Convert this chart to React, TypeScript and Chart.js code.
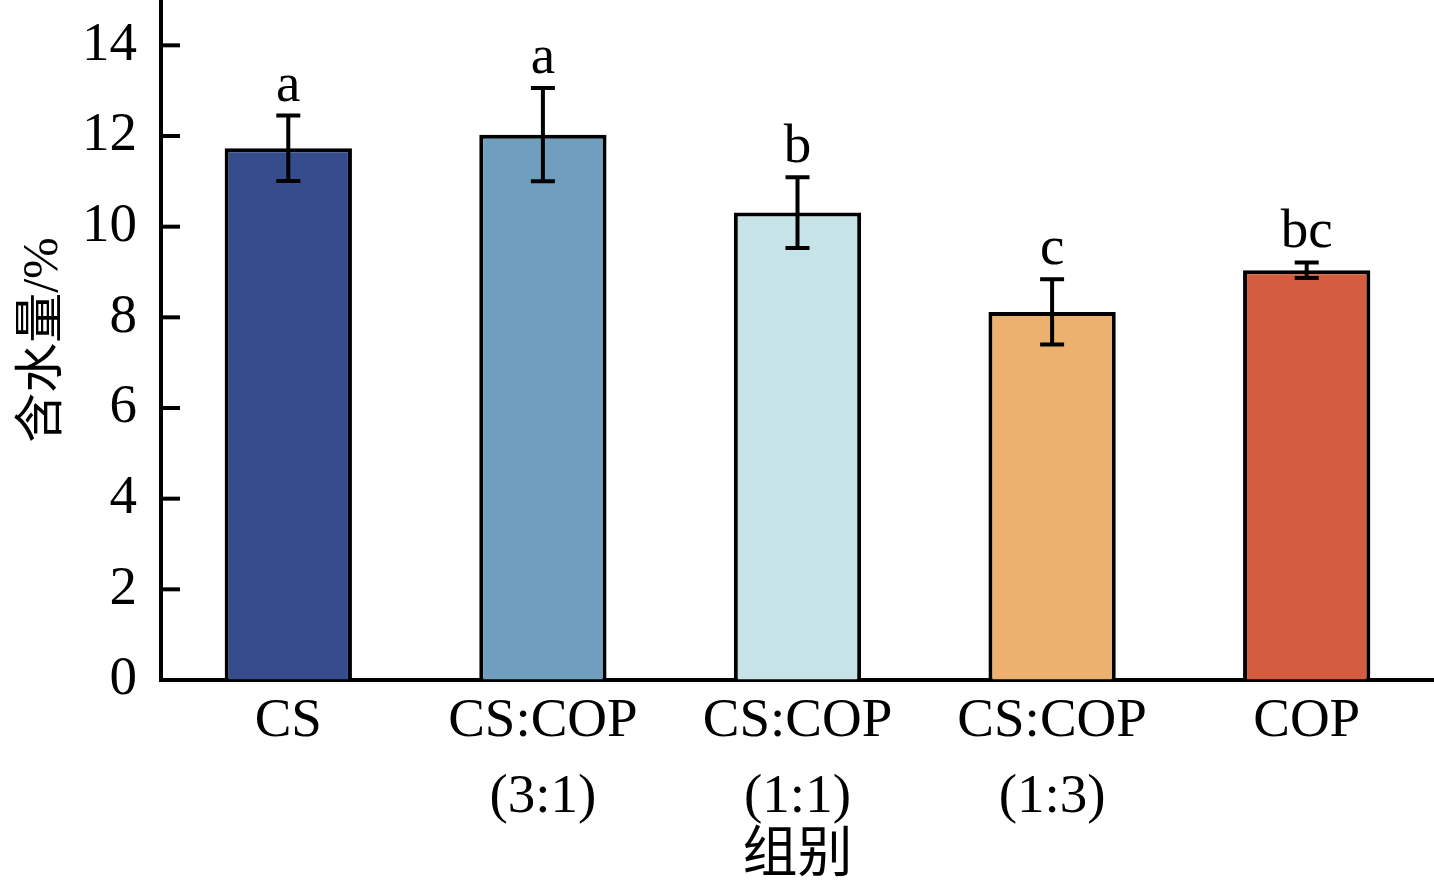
import React, { useEffect, useRef } from 'react';
import Chart from 'chart.js/auto';

const categories: string[][] = [['CS'], ['CS:COP', '(3:1)'], ['CS:COP', '(1:1)'], ['CS:COP', '(1:3)'], ['COP']];
const means = [11.73, 12.03, 10.31, 8.12, 9.04];
const errors = [0.72, 1.03, 0.78, 0.72, 0.17];
const letters = ['a', 'a', 'b', 'c', 'bc'];
const barColors = ['#354D8D', '#6F9EBE', '#C6E3E8', '#ECB16E', '#D45D40'];
const yTicks = [0, 2, 4, 6, 8, 10, 12, 14];

const SERIF = '"Liberation Serif", "Noto Sans CJK SC", serif';

const errorBarPlugin = {
  id: 'errorBars',
  afterDatasetsDraw(chart: Chart) {
    const { ctx, scales } = chart;
    const y = scales.y;
    const meta = chart.getDatasetMeta(0);
    ctx.save();
    ctx.strokeStyle = '#000';
    ctx.lineWidth = 4;
    ctx.fillStyle = '#000';
    ctx.font = `55px ${SERIF}`;
    ctx.textAlign = 'center';
    ctx.textBaseline = 'alphabetic';
    meta.data.forEach((bar: any, i: number) => {
      const x = bar.x;
      const top = y.getPixelForValue(means[i] + errors[i]);
      const bot = y.getPixelForValue(means[i] - errors[i]);
      ctx.beginPath();
      ctx.moveTo(x, top);
      ctx.lineTo(x, bot);
      ctx.moveTo(x - 12, top);
      ctx.lineTo(x + 12, top);
      ctx.moveTo(x - 12, bot);
      ctx.lineTo(x + 12, bot);
      ctx.stroke();
      ctx.fillText(letters[i], x, top - 15);
    });
    // inward tick marks on the y axis
    const left = chart.chartArea.left;
    yTicks.forEach((v) => {
      const py = y.getPixelForValue(v);
      ctx.beginPath();
      ctx.moveTo(left, py);
      ctx.lineTo(left + 19, py);
      ctx.stroke();
    });
    ctx.restore();
  },
};

export default function App(): React.JSX.Element {
  const canvasRef = useRef<HTMLCanvasElement | null>(null);

  useEffect(() => {
    document.body.style.margin = '0';
    if (!canvasRef.current) return;
    const chart = new Chart(canvasRef.current, {
      type: 'bar',
      data: {
        labels: categories,
        datasets: [
          {
            data: means,
            backgroundColor: barColors,
            borderColor: '#000',
            borderWidth: 4,
            borderSkipped: 'bottom',
            barPercentage: 0.5,
            categoryPercentage: 1,
          },
        ],
      },
      options: {
        responsive: false,
        animation: false,
        devicePixelRatio: 1,
        layout: { padding: 0 },
        plugins: {
          legend: { display: false },
          tooltip: { enabled: false },
        },
        scales: {
          x: {
            grid: { display: false, drawTicks: false },
            border: { display: true, color: '#000', width: 4 },
            ticks: {
              color: '#000',
              font: { family: SERIF, size: 55, lineHeight: 1.38 },
              padding: 4,
              maxRotation: 0,
              autoSkip: false,
            },
            title: {
              display: true,
              text: '组别',
              color: '#000',
              font: { family: SERIF, size: 55 },
              padding: { top: 0, bottom: -4 },
            },
            afterFit: (scale: any) => {
              scale.height = 206;
              scale.paddingLeft = 0;
              scale.paddingRight = 0;
            },
          },
          y: {
            min: 0,
            max: 15,
            grid: { display: true, drawOnChartArea: false, drawTicks: false },
            border: { display: true, color: '#000', width: 4 },
            afterBuildTicks: (scale: any) => {
              scale.ticks = yTicks.map((v) => ({ value: v }));
            },
            ticks: {
              color: '#000',
              font: { family: SERIF, size: 55 },
              padding: 24,
            },
            title: {
              display: true,
              text: '含水量/%',
              color: '#000',
              font: { family: SERIF, size: 50 },
              padding: { top: 14, bottom: 0 },
            },
            afterFit: (scale: any) => {
              scale.width = 161;
              scale.paddingTop = 0;
              scale.paddingBottom = 0;
            },
          },
        },
      },
      plugins: [errorBarPlugin],
    });
    return () => chart.destroy();
  }, []);

  return <canvas ref={canvasRef} width={1434} height={886} style={{ display: 'block' }} />;
}
